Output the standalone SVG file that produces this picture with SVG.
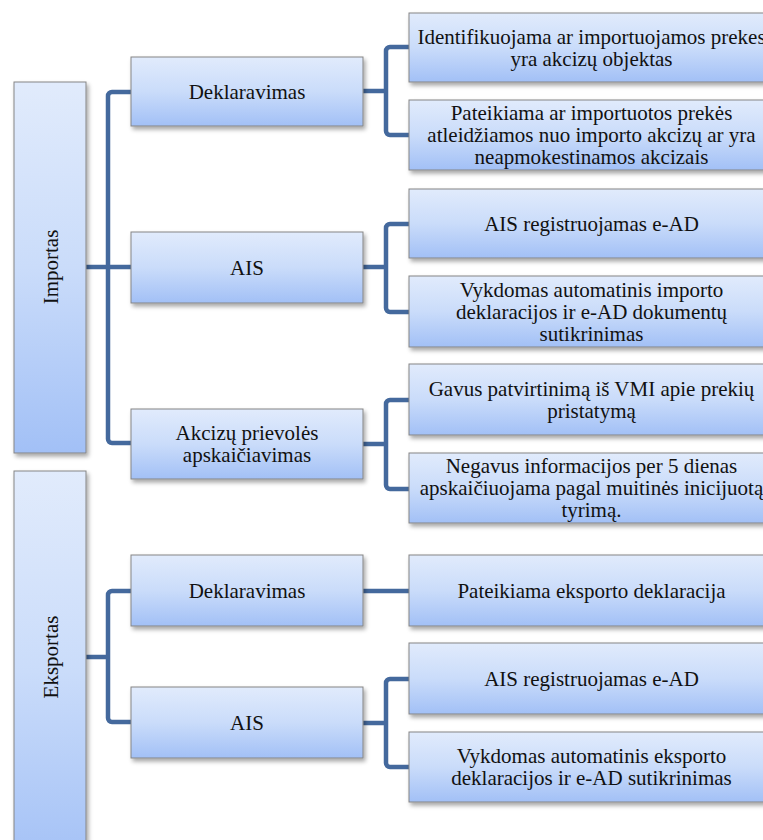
<svg xmlns="http://www.w3.org/2000/svg" width="763" height="840" viewBox="0 0 763 840">
<defs>
<linearGradient id="g" x1="0" y1="0" x2="0" y2="1">
<stop offset="0" stop-color="#E1EBFC"/>
<stop offset="0.5" stop-color="#CADCFA"/>
<stop offset="1" stop-color="#A2C0F6"/>
</linearGradient>
<filter id="sh" x="-10%" y="-10%" width="130%" height="140%">
<feDropShadow dx="2" dy="3" stdDeviation="2" flood-color="#000" flood-opacity="0.35"/>
</filter>
</defs>
<style>
.box{fill:url(#g);stroke:#858585;stroke-width:1;filter:url(#sh)}
.t{font-family:'Liberation Serif','Times New Roman','DejaVu Serif',serif;font-size:21px;fill:#111;text-anchor:middle}
.c{fill:none;stroke:#44699D;stroke-width:4.5;stroke-linejoin:round}
</style>
<rect width="763" height="840" fill="#fff"/>
<g id="connectors">
<path class="c" d="M86,267 H108"/>
<path class="c" d="M131,92 H112 A4,4 0 0 0 108,96 V439 A4,4 0 0 0 112,443 H131 M108,267 H131"/>
<path class="c" d="M363,91 H386 M409,47 H390 A4,4 0 0 0 386,51 V131 A4,4 0 0 0 390,135 H409"/>
<path class="c" d="M363,267 H386 M409,224 H390 A4,4 0 0 0 386,228 V308 A4,4 0 0 0 390,312 H409"/>
<path class="c" d="M363,444 H386 M409,400 H390 A4,4 0 0 0 386,404 V485 A4,4 0 0 0 390,489 H409"/>
<path class="c" d="M86,657 H108 M131,591 H112 A4,4 0 0 0 108,595 V718 A4,4 0 0 0 112,722 H131"/>
<path class="c" d="M363,591 H409"/>
<path class="c" d="M363,723 H386 M409,679 H390 A4,4 0 0 0 386,683 V763 A4,4 0 0 0 390,767 H409"/>
</g>
<g font-family="Liberation Serif, Times New Roman, serif">
<g id="importas"><rect class="box" x="14" y="82" width="72" height="371"/><text class="t" transform="translate(58,267) rotate(-90)">Importas</text></g>
<g id="eksportas"><rect class="box" x="14" y="471" width="72" height="400"/><text class="t" transform="translate(58,657) rotate(-90)">Eksportas</text></g>
<g id="imp-deklaravimas"><rect class="box" x="131" y="57" width="232" height="69"/><text class="t" x="247" y="98.5">Deklaravimas</text></g>
<g id="imp-ais"><rect class="box" x="131" y="232" width="232" height="71"/><text class="t" x="247" y="274.5">AIS</text></g>
<g id="imp-akcizu"><rect class="box" x="131" y="409" width="232" height="70"/><text class="t" x="247" y="440">Akcizų prievolės</text><text class="t" x="247" y="462">apskaičiavimas</text></g>
<g id="exp-deklaravimas"><rect class="box" x="131" y="555" width="232" height="71"/><text class="t" x="247" y="597.5">Deklaravimas</text></g>
<g id="exp-ais"><rect class="box" x="131" y="687" width="232" height="71"/><text class="t" x="247" y="729.5">AIS</text></g>
<g id="r1"><rect class="box" x="409" y="13" width="365" height="69"/><text class="t" x="591.5" y="43.5">Identifikuojama ar importuojamos prekes</text><text class="t" x="591.5" y="65.5">yra akcizų objektas</text></g>
<g id="r2"><rect class="box" x="409" y="100" width="365" height="70"/><text class="t" x="591.5" y="120">Pateikiama ar importuotos prekės</text><text class="t" x="591.5" y="142">atleidžiamos nuo importo akcizų ar yra</text><text class="t" x="591.5" y="164">neapmokestinamos akcizais</text></g>
<g id="r3"><rect class="box" x="409" y="189" width="365" height="69"/><text class="t" x="591.5" y="230.5">AIS registruojamas e-AD</text></g>
<g id="r4"><rect class="box" x="409" y="276" width="365" height="71"/><text class="t" x="591.5" y="296.5">Vykdomas automatinis importo</text><text class="t" x="591.5" y="318.5">deklaracijos ir e-AD dokumentų</text><text class="t" x="591.5" y="340.5">sutikrinimas</text></g>
<g id="r5"><rect class="box" x="409" y="364" width="365" height="71"/><text class="t" x="591.5" y="395.5">Gavus patvirtinimą iš VMI apie prekių</text><text class="t" x="591.5" y="417.5">pristatymą</text></g>
<g id="r6"><rect class="box" x="409" y="453" width="365" height="70"/><text class="t" x="591.5" y="473">Negavus informacijos per 5 dienas</text><text class="t" x="591.5" y="495">apskaičiuojama pagal muitinės inicijuotą</text><text class="t" x="591.5" y="517">tyrimą.</text></g>
<g id="r7"><rect class="box" x="409" y="555" width="365" height="71"/><text class="t" x="591.5" y="597.5">Pateikiama eksporto deklaracija</text></g>
<g id="r8"><rect class="box" x="409" y="643" width="365" height="71"/><text class="t" x="591.5" y="685.5">AIS registruojamas e-AD</text></g>
<g id="r9"><rect class="box" x="409" y="732" width="365" height="70"/><text class="t" x="591.5" y="763">Vykdomas automatinis eksporto</text><text class="t" x="591.5" y="785">deklaracijos ir e-AD sutikrinimas</text></g>
</g>
</svg>
